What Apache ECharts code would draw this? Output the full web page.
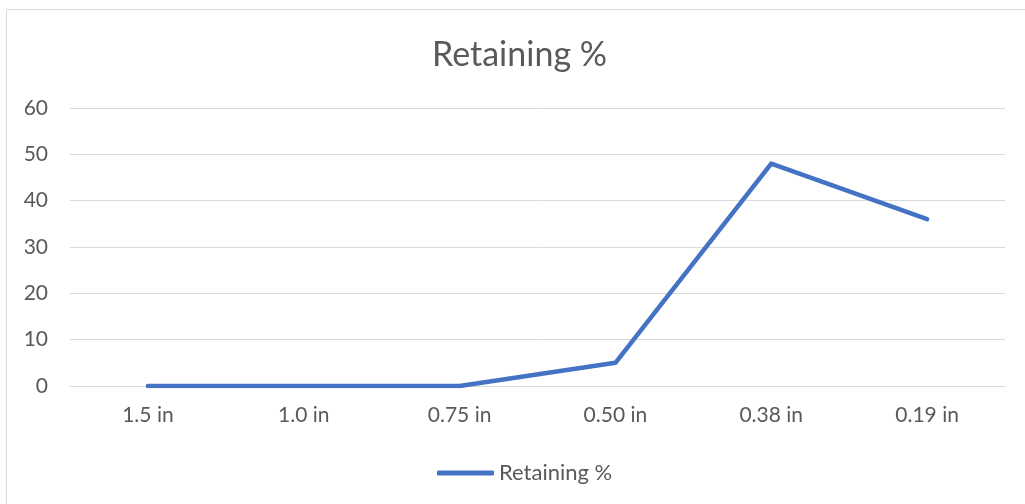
<!DOCTYPE html>
<html>
<head>
<meta charset="utf-8">
<script src="https://cdn.jsdelivr.net/npm/echarts@6/dist/echarts.min.js"></script>
<style>
html,body{margin:0;padding:0;background:#fff;}
#c{width:1025px;height:504px;}
</style>
</head>
<body>
<div id="c"></div>
<script>
const categories = ['1.5 in', '1.0 in', '0.75 in', '0.50 in', '0.38 in', '0.19 in'];
const retaining = [0, 0, 0, 5, 48, 36];
const seriesName = 'Retaining %';
const titleText = 'Retaining %';

const chart = echarts.init(document.getElementById('c'));
const font = 'Lato, "Liberation Sans", sans-serif';
chart.setOption({
  animation: false,
  backgroundColor: '#fff',
  graphic: [{
    type: 'rect',
    shape: {x: 6.5, y: 9.5, width: 1040, height: 520},
    style: {fill: 'none', stroke: '#d9d9d9', lineWidth: 1},
    silent: true
  }],
  title: {
    text: titleText,
    left: 427,
    top: 33,
    textStyle: {fontFamily: font, fontSize: 34, fontWeight: 'normal', color: '#595959'}
  },
  legend: {
    data: [seriesName],
    left: 432,
    top: 457,
    icon: 'roundRect',
    itemWidth: 57,
    itemHeight: 5,
    textStyle: {fontFamily: font, fontSize: 22, color: '#595959'}
  },
  grid: {left: 70, right: 20, top: 108, bottom: 118, containLabel: false},
  xAxis: {
    type: 'category',
    data: categories,
    boundaryGap: true,
    axisLine: {show: true, lineStyle: {color: '#d9d9d9', width: 1}},
    axisTick: {show: false},
    axisLabel: {fontFamily: font, fontSize: 21, color: '#595959', margin: 19}
  },
  yAxis: {
    type: 'value',
    min: 0,
    max: 60,
    interval: 10,
    axisLine: {show: false},
    axisTick: {show: false},
    splitLine: {lineStyle: {color: '#d9d9d9', width: 1}},
    axisLabel: {fontFamily: font, fontSize: 21, color: '#595959', margin: 22}
  },
  series: [{
    name: seriesName,
    type: 'line',
    data: retaining,
    symbol: 'none',
    color: '#4472C4',
    lineStyle: {color: '#4472C4', width: 4.5, cap: 'round', join: 'round'}
  }]
});
</script>
</body>
</html>
